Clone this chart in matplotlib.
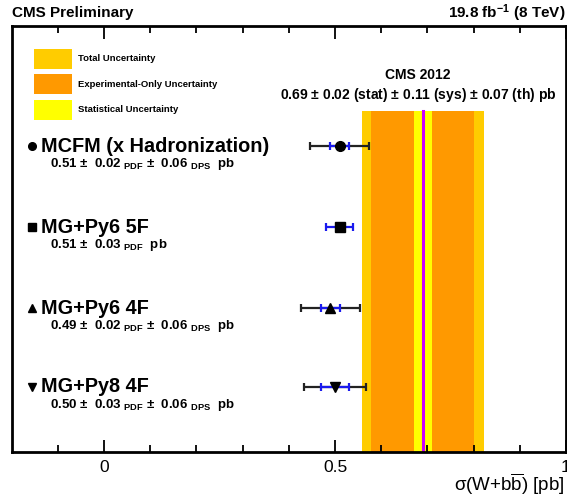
import numpy as np
import matplotlib
matplotlib.use('Agg')
import matplotlib.pyplot as plt
from matplotlib.patches import Rectangle

plt.rcParams['font.family'] = ['Liberation Sans', 'DejaVu Sans']
plt.rcParams['mathtext.fontset'] = 'custom'
plt.rcParams['mathtext.rm'] = 'Liberation Sans'
plt.rcParams['mathtext.it'] = 'Liberation Sans:italic'
plt.rcParams['mathtext.bf'] = 'Liberation Sans:bold'
plt.rcParams['mathtext.default'] = 'regular'

# CMS 2012 measurement
meas = 0.69
stat = 0.02
sys_ = 0.11
th = 0.07

# theory predictions
models = ['MCFM (x Hadronization)', 'MG+Py6 5F', 'MG+Py6 4F', 'MG+Py8 4F']
markers = ['o', 's', '^', 'v']
pred = [0.51, 0.51, 0.49, 0.50]
pdf_err = [0.02, 0.03, 0.02, 0.03]
dps_err = [0.06, 0.0, 0.06, 0.06]

# colours
c_tot = '#ffcc00'
c_exp = '#ff9900'
c_stat = '#ffff00'
c_line = '#cc00ff'

exp_err = np.sqrt(stat**2 + sys_**2)
tot_err = np.sqrt(stat**2 + sys_**2 + th**2)

fig = plt.figure(figsize=(5.67, 4.96), dpi=100)
ax = fig.add_axes([11.6/567, 44/496, (566-11.6)/567, 426/496])
ax.set_xlim(-0.2, 1.0)
ax.set_ylim(0, 1)

# measurement bands
band_top = 0.80
ax.fill_betweenx([0, band_top], meas - tot_err, meas + tot_err, color=c_tot, lw=0)
ax.fill_betweenx([0, band_top], meas - exp_err, meas + exp_err, color=c_exp, lw=0)
ax.fill_betweenx([0, band_top], meas - stat, meas + stat, color=c_stat, lw=0)
ax.plot([meas, meas], [0, band_top], color=c_line, lw=2.2)

ax.text(0.69 - 0.01, 0.885, 'CMS 2012', ha='center', va='center',
        fontsize=10, fontweight='bold')
ax.text(0.68, 0.838,
        '%.2f $\\pm$ %.2f (stat) $\\pm$ %.2f (sys) $\\pm$ %.2f (th) pb' % (meas, stat, sys_, th),
        ha='center', va='center', fontsize=10, fontweight='bold')

# legend
leg_names = ['Total Uncertainty', 'Experimental-Only Uncertainty', 'Statistical Uncertainty']
leg_cols = [c_tot, c_exp, c_stat]
leg_y = [0.923, 0.863, 0.803]
for name, col, yy in zip(leg_names, leg_cols, leg_y):
    ax.add_patch(Rectangle((-0.1515, yy - 0.0235), 0.0825, 0.047, color=col, lw=0))
    ax.text(-0.056, yy, name, va='center', fontsize=6.8, fontweight='bold')

# predictions
ys = [0.718, 0.528, 0.338, 0.153]
for i in range(len(models)):
    y = ys[i]
    tot = np.sqrt(pdf_err[i]**2 + dps_err[i]**2)
    if dps_err[i] > 0:
        ax.errorbar(pred[i], y, xerr=tot, fmt='none', ecolor='#222222',
                    elinewidth=1.6, capsize=3, capthick=1.6)
    ax.errorbar(pred[i], y, xerr=pdf_err[i], fmt='none', ecolor='#1a1aee',
                elinewidth=1.6, capsize=3, capthick=1.6)
    ms = 7.5 if markers[i] == 's' else 7
    ax.plot(pred[i], y, marker=markers[i], color='black', ms=ms, ls='none')

    ax.plot(-0.156, y, marker=markers[i], color='black', ms=5.5, ls='none', clip_on=False)
    ax.text(-0.137, y, models[i], va='center', fontsize=14.3, fontweight='bold')
    if dps_err[i] > 0:
        sub = '%.2f $\\pm$  %.2f $_{PDF}$ $\\pm$  %.2f $_{DPS}$  pb' % (pred[i], pdf_err[i], dps_err[i])
    else:
        sub = '%.2f $\\pm$  %.2f $_{PDF}$  pb' % (pred[i], pdf_err[i])
    ax.text(-0.117, y - 0.043, sub, va='center', fontsize=9.5, fontweight='bold')

# axes styling
ax.set_xticks([0, 0.5, 1.0])
ax.set_xticklabels(['0', '0.5', '1'])
ax.set_xticks(np.arange(-0.1, 1.0, 0.1), minor=True)
ax.set_yticks([])
ax.tick_params(axis='x', which='both', direction='in', top=True, labelsize=12.5,
               width=1.3, pad=6)
ax.tick_params(axis='x', which='major', length=9)
ax.tick_params(axis='x', which='minor', length=5)
for s in ax.spines.values():
    s.set_linewidth(2)

fig.text(565/567, 1 - 484/496, r'$\sigma$(W+b$\overline{\mathrm{b}}$) [pb]', fontsize=13.5,
         ha='right', va='center')

fig.text(12/567, 1 - 13/496, 'CMS Preliminary', fontsize=11, fontweight='bold', va='center')
fig.text(565/567, 1 - 13/496, '19.8 fb$^{-1}$ (8 TeV)', fontsize=11, fontweight='bold',
         va='center', ha='right')

fig.savefig('out.png', dpi=100)
